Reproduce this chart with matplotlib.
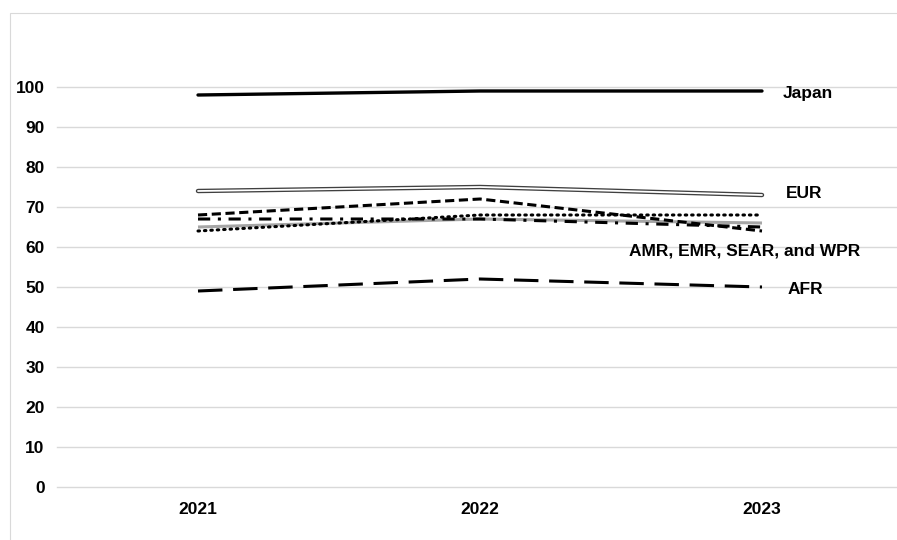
import matplotlib
matplotlib.use("Agg")
import matplotlib.pyplot as plt
from matplotlib.patches import Rectangle

plt.rcParams['font.family'] = ['Liberation Sans', 'DejaVu Sans']

years = ["2021", "2022", "2023"]
japan = [98, 99, 99]
eur = [74, 75, 73]
region_a = [68, 72, 64]      # short dash
region_b = [67, 67, 65]      # dash-dot
region_c = [64, 68, 68]      # dotted
region_d = [65, 67, 66]      # grey solid
afr = [49, 52, 50]

x = range(len(years))

fig = plt.figure(figsize=(8.97, 5.4), dpi=100)
# outer chart frame
fig.patches.append(Rectangle((10 / 897, -0.1), 1.0, 1.1 - 13 / 540, transform=fig.transFigure,
                             fill=False, edgecolor="#d9d9d9", lw=0.8))

ax = fig.add_axes([57 / 897, 53 / 540, 846 / 897, 400 / 540])
ax.set_xlim(-0.5, 2.5)
ax.set_ylim(0, 100)
ax.set_yticks(range(0, 101, 10))
ax.set_xticks(list(x))
ax.set_xticklabels(years)
ax.grid(axis="y", color="#d9d9d9", lw=1)
for gl in ax.get_ygridlines():
    gl.set_clip_on(False)
ax.set_axisbelow(True)
for s in ax.spines.values():
    s.set_visible(False)
ax.tick_params(length=0, labelsize=12.5)
ax.tick_params(axis="y", pad=9)
ax.tick_params(axis="x", pad=11)
for lab in ax.get_xticklabels() + ax.get_yticklabels():
    lab.set_fontweight("bold")

ax.plot(x, region_d, color="#a6a6a6", lw=2.2, solid_capstyle="butt")
ax.plot(x, region_c, color="black", lw=2.2, linestyle=(0, (0.5, 1.6)), dash_capstyle="round")
ax.plot(x, region_b, color="black", lw=2.2, linestyle=(0, (4, 2.5, 1, 2.5)))
ax.plot(x, region_a, color="black", lw=2.2, linestyle=(0, (3, 1.5)))
ax.plot(x, afr, color="black", lw=2.2, linestyle=(0, (8, 3.5)))
ax.plot(x, eur, color="#404040", lw=3.2, solid_capstyle="round")
ax.plot(x, eur, color="white", lw=1.3, solid_capstyle="round")
ax.plot(x, japan, color="black", lw=2.4, solid_capstyle="round")

lab_kw = dict(fontsize=12.5, fontweight="bold", va="center")
ax.text(2.075, 98.5, "Japan", ha="left", **lab_kw)
ax.text(2.085, 73.3, "EUR", ha="left", **lab_kw)
ax.text(1.94, 59, "AMR, EMR, SEAR, and WPR", ha="center", **lab_kw)
ax.text(2.09, 49.5, "AFR", ha="left", **lab_kw)

fig.savefig("out.png", dpi=100)
